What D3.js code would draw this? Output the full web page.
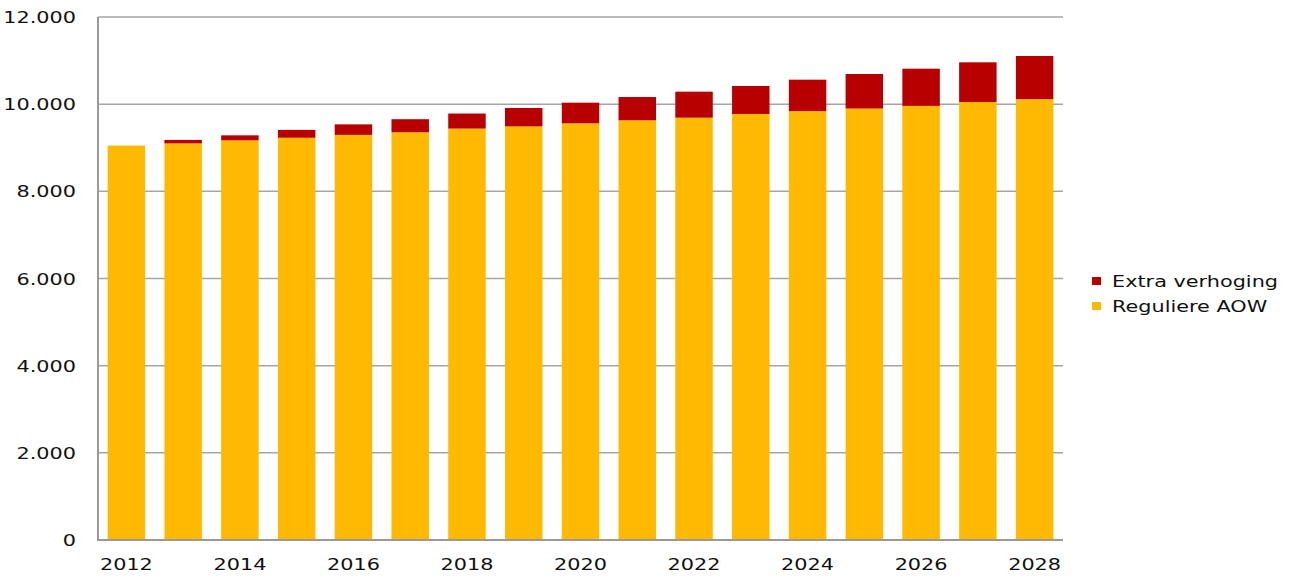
<!DOCTYPE html>
<html><head><meta charset="utf-8">
<script src="https://cdn.jsdelivr.net/npm/d3@7/dist/d3.min.js"></script>
<style>body{margin:0;background:#fff}svg{display:block}text{font-family:"DejaVu Sans",Verdana,sans-serif;fill:#111}</style>
</head><body><svg id="c" width="1299" height="581"></svg>
<script>
const years = [2012,2013,2014,2015,2016,2017,2018,2019,2020,2021,2022,2023,2024,2025,2026,2027,2028];
const regulier = [9050,9100,9170,9230,9295,9355,9440,9490,9560,9630,9690,9775,9840,9900,9960,10050,10115];
const extra = [0,80,115,180,242,300,345,422,474,534,597,642,722,792,854,910,990];
const yTicks = [0,2000,4000,6000,8000,10000,12000];
const seriesNames = ["Extra verhoging","Reguliere AOW"];
const colors = {"Reguliere AOW":"#FFB900","Extra verhoging":"#B80000"};

const svg = d3.select("#c");
const L=98, R=1063, T=17, B=540, SX=1.3;
const x = d3.scaleBand().domain(years).range([L,R]).paddingInner(0.34).paddingOuter(0.17);
const y = d3.scaleLinear().domain([0,12000]).range([B,T]);
const fmt = v => d3.format(",")(v).replace(/,/g,".");

// gridlines
svg.append("g").selectAll("line").data(yTicks.filter(d=>d>0)).join("line")
  .attr("x1",L).attr("x2",R).attr("y1",d=>y(d)).attr("y2",d=>y(d))
  .attr("stroke","#a6a6a6").attr("stroke-width",1.5);

// bars
const data = years.map((yr,i)=>({year:yr,"Reguliere AOW":regulier[i],"Extra verhoging":extra[i]}));
const stack = d3.stack().keys(["Reguliere AOW","Extra verhoging"])(data);
svg.append("g").selectAll("g").data(stack).join("g").attr("fill",d=>colors[d.key])
  .selectAll("rect").data(d=>d).join("rect")
  .attr("x",d=>x(d.data.year)).attr("width",x.bandwidth())
  .attr("y",d=>y(d[1])).attr("height",d=>Math.max(0,y(d[0])-y(d[1])));

// axes lines
svg.append("line").attr("x1",L).attr("x2",L).attr("y1",T).attr("y2",B).attr("stroke","#999").attr("stroke-width",2);
svg.append("line").attr("x1",L-1).attr("x2",R).attr("y1",B).attr("y2",B).attr("stroke","#999").attr("stroke-width",2);

function stretchText(g, tx, ty, str, anchor){
  return g.append("text").attr("transform",`translate(${tx},${ty}) scale(${SX},1)`)
    .attr("text-anchor",anchor).attr("font-size",16).text(str);
}
const gl = svg.append("g");
yTicks.forEach(t=>stretchText(gl,76,y(t)+6,fmt(t),"end"));
years.filter((d,i)=>i%2===0).forEach(yr=>stretchText(gl,x(yr)+x.bandwidth()/2,570,String(yr),"middle"));

// legend
const lg = svg.append("g");
seriesNames.forEach((n,i)=>{
  const yy = 277 + i*25;
  lg.append("rect").attr("x",1092).attr("y",yy).attr("width",9).attr("height",8).attr("fill",colors[n]);
  stretchText(lg,1112,yy+10,n,"start");
});
</script></body></html>
